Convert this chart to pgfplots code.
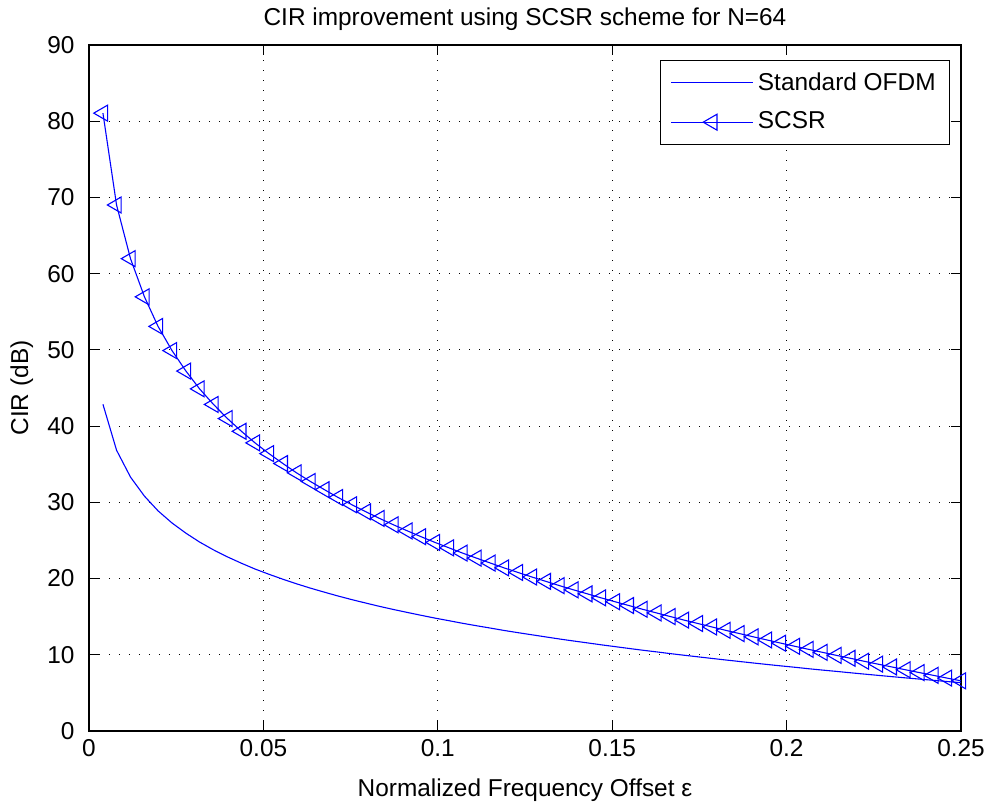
\documentclass[border=0pt]{standalone}
\usepackage{fontspec}
\setmainfont{Liberation Sans}
\usepackage{pgfplots}
\pgfplotsset{compat=1.18}
\definecolor{mblue}{RGB}{0,0,255}
\begin{document}
\fontsize{12.2}{14}\selectfont
\begin{tikzpicture}
\path[use as bounding box] (-44.5pt,-38pt) rectangle (453pt,365.5pt);
\begin{axis}[
  at={(0,0)}, anchor=south west,
  scale only axis, width=436pt, height=343pt,
  xmin=0, xmax=0.25, ymin=0, ymax=90,
  xtick={0,0.05,0.1,0.15,0.2,0.25},
  xticklabels={0,0.05,0.1,0.15,0.2,0.25},
  ytick={0,10,20,30,40,50,60,70,80,90},
  yticklabels={0,10,20,30,40,50,60,70,80,90},
  tick align=inside,
  major tick length=5pt,
  every tick/.style={black, line width=0.6pt},
  axis line style={black, line width=0.6pt},
  grid=major,
  major grid style={black, line width=0.6pt, dash pattern=on 0.6pt off 4.4pt},
  yticklabel style={xshift=-3pt},
  title={CIR improvement using SCSR scheme for N=64},
  every axis title/.style={at={(axis description cs:0.5,1)}, anchor=base, yshift=9.5pt},
  xlabel={Normalized Frequency Offset ε},
  xlabel style={at={(axis description cs:0.5,-0.0962)}, anchor=base},
  ylabel={CIR (dB)},
  ylabel style={at={(axis description cs:-0.077,0.5)}, anchor=center},
  clip=false,
  legend cell align=left,
  legend style={at={(axis description cs:0.9874,0.978)}, anchor=north east,
    draw=black, fill=white, inner xsep=5pt, inner ysep=4pt,
    row sep=5pt, font=\fontsize{12.2}{14}\selectfont,
    /tikz/every even column/.append style={column sep=3pt}},
]
\addplot[draw=mblue, line width=0.55pt, mark=none,
  legend image code/.code={\draw[draw=mblue, line width=0.6pt] (0cm,0.5pt) -- (1.44cm,0.5pt);}] coordinates {
(0.0040,42.86) (0.0079,36.84) (0.0119,33.31) (0.0159,30.81) (0.0198,28.88)
(0.0238,27.29) (0.0278,25.95) (0.0317,24.79) (0.0357,23.76) (0.0397,22.84)
(0.0437,22.01) (0.0476,21.25) (0.0516,20.56) (0.0556,19.91) (0.0595,19.31)
(0.0635,18.74) (0.0675,18.21) (0.0714,17.71) (0.0754,17.23) (0.0794,16.78)
(0.0833,16.35) (0.0873,15.94) (0.0913,15.55) (0.0952,15.18) (0.0992,14.81)
(0.1032,14.47) (0.1071,14.13) (0.1111,13.81) (0.1151,13.50) (0.1190,13.19)
(0.1230,12.90) (0.1270,12.62) (0.1310,12.34) (0.1349,12.07) (0.1389,11.81)
(0.1429,11.56) (0.1468,11.31) (0.1508,11.07) (0.1548,10.83) (0.1587,10.60)
(0.1627,10.38) (0.1667,10.15) (0.1706,9.94) (0.1746,9.73) (0.1786,9.52)
(0.1825,9.32) (0.1865,9.12) (0.1905,8.92) (0.1944,8.73) (0.1984,8.54)
(0.2024,8.36) (0.2063,8.17) (0.2103,7.99) (0.2143,7.82) (0.2183,7.64)
(0.2222,7.47) (0.2262,7.30) (0.2302,7.13) (0.2341,6.97) (0.2381,6.81)
(0.2421,6.65) (0.2460,6.49) (0.2500,6.34)
};
\addlegendentry{Standard OFDM}
\addplot[draw=mblue, line width=0.55pt, mark=triangle, mark size=4.6pt,
  mark options={rotate=90, solid, line width=0.55pt, draw=mblue},
  legend image code/.code={\draw[draw=mblue, line width=0.6pt, mark repeat=2, mark phase=2] plot coordinates {(0cm,0cm) (0.72cm,0cm) (1.44cm,0cm)};}] coordinates {
(0.0040,81.06) (0.0079,69.01) (0.0119,61.97) (0.0159,56.96) (0.0198,53.08)
(0.0238,49.91) (0.0278,47.22) (0.0317,44.89) (0.0357,42.84) (0.0397,40.99)
(0.0437,39.32) (0.0476,37.80) (0.0516,36.39) (0.0556,35.09) (0.0595,33.87)
(0.0635,32.73) (0.0675,31.66) (0.0714,30.64) (0.0754,29.68) (0.0794,28.76)
(0.0833,27.89) (0.0873,27.05) (0.0913,26.25) (0.0952,25.49) (0.0992,24.74)
(0.1032,24.03) (0.1071,23.34) (0.1111,22.68) (0.1151,22.03) (0.1190,21.40)
(0.1230,20.80) (0.1270,20.20) (0.1310,19.63) (0.1349,19.07) (0.1389,18.52)
(0.1429,17.99) (0.1468,17.47) (0.1508,16.96) (0.1548,16.46) (0.1587,15.97)
(0.1627,15.49) (0.1667,15.01) (0.1706,14.55) (0.1746,14.10) (0.1786,13.65)
(0.1825,13.21) (0.1865,12.78) (0.1905,12.35) (0.1944,11.94) (0.1984,11.52)
(0.2024,11.11) (0.2063,10.71) (0.2103,10.32) (0.2143,9.92) (0.2183,9.54)
(0.2222,9.15) (0.2262,8.77) (0.2302,8.40) (0.2341,8.03) (0.2381,7.66)
(0.2421,7.30) (0.2460,6.94) (0.2500,6.58)
};
\addlegendentry{SCSR}
\end{axis}
\end{tikzpicture}
\end{document}
